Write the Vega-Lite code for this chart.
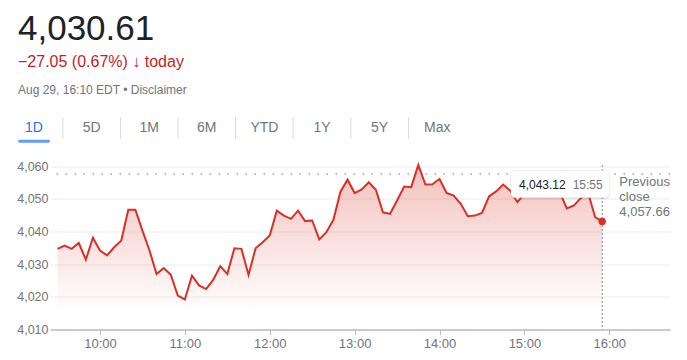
{
  "$schema": "https://vega.github.io/schema/vega-lite/v6.json",
  "background": "white",
  "padding": {"left": 5, "top": 12, "right": 5, "bottom": 5},
  "title": {
    "text": "4,030.61",
    "subtitle": "−27.05 (0.67%) ↓ today",
    "anchor": "start",
    "dx": 13,
    "font": "Liberation Sans",
    "fontSize": 35,
    "fontWeight": "normal",
    "color": "#202124",
    "subtitleFont": "Liberation Sans",
    "subtitleFontSize": 16,
    "subtitleColor": "#c5221f",
    "subtitlePadding": 7,
    "offset": 14
  },
  "spacing": 12.5,
  "vconcat": [
    {
      "width": 416,
      "height": 26,
      "title": {
        "text": "Aug 29, 16:10 EDT • Disclaimer",
        "anchor": "start",
        "frame": "group",
        "dx": -32,
        "font": "Liberation Sans",
        "fontSize": 12,
        "fontWeight": "normal",
        "color": "#70757a",
        "offset": 19.5
      },
      "data": {
        "values": [
          {"tab": "1D"}, {"tab": "5D"}, {"tab": "1M"}, {"tab": "6M"},
          {"tab": "YTD"}, {"tab": "1Y"}, {"tab": "5Y"}, {"tab": "Max"}
        ]
      },
      "encoding": {
        "x": {
          "field": "tab",
          "type": "nominal",
          "sort": null,
          "scale": {"domain": ["1D", "5D", "1M", "6M", "YTD", "1Y", "5Y", "Max"], "range": [-44.8, 416], "paddingInner": 0, "paddingOuter": 0},
          "axis": null
        }
      },
      "layer": [
        {
          "mark": {"type": "text", "fontSize": 14, "font": "Liberation Sans", "baseline": "middle"},
          "encoding": {
            "y": {"datum": 0.56, "type": "quantitative", "scale": {"domain": [0, 1]}, "axis": null},
            "text": {"field": "tab"},
            "color": {"condition": {"test": "datum.tab === '1D'", "value": "#1a73e8"}, "value": "#70757a"}
          }
        },
        {
          "transform": [{"filter": "datum.tab !== 'Max'"}],
          "mark": {"type": "rule", "color": "#dadce0", "strokeWidth": 1},
          "encoding": {
            "x": {"field": "tab", "type": "nominal", "bandPosition": 1},
            "y": {"datum": 1, "type": "quantitative"},
            "y2": {"datum": 0.15}
          }
        },
        {
          "transform": [{"filter": "datum.tab === '1D'"}],
          "mark": {"type": "tick", "color": "#1a73e8", "thickness": 3, "size": 32, "cornerRadius": 1.5},
          "encoding": {
            "y": {"datum": 0.07, "type": "quantitative"}
          }
        }
      ]
    },
    {
      "width": 620,
      "height": 174,
      "data": {
        "values": [
          {"t": "2022-08-29T09:30", "v": 4034.7},
          {"t": "2022-08-29T09:35", "v": 4035.7},
          {"t": "2022-08-29T09:40", "v": 4034.7},
          {"t": "2022-08-29T09:45", "v": 4036.5},
          {"t": "2022-08-29T09:50", "v": 4031.4},
          {"t": "2022-08-29T09:55", "v": 4038.1},
          {"t": "2022-08-29T10:00", "v": 4034.2},
          {"t": "2022-08-29T10:05", "v": 4032.7},
          {"t": "2022-08-29T10:10", "v": 4035.2},
          {"t": "2022-08-29T10:15", "v": 4037.2},
          {"t": "2022-08-29T10:20", "v": 4046.7},
          {"t": "2022-08-29T10:25", "v": 4046.7},
          {"t": "2022-08-29T10:30", "v": 4040.3},
          {"t": "2022-08-29T10:35", "v": 4034.2},
          {"t": "2022-08-29T10:40", "v": 4027.0},
          {"t": "2022-08-29T10:45", "v": 4028.8},
          {"t": "2022-08-29T10:50", "v": 4026.8},
          {"t": "2022-08-29T10:55", "v": 4020.4},
          {"t": "2022-08-29T11:00", "v": 4019.2},
          {"t": "2022-08-29T11:05", "v": 4026.5},
          {"t": "2022-08-29T11:10", "v": 4023.5},
          {"t": "2022-08-29T11:15", "v": 4022.4},
          {"t": "2022-08-29T11:20", "v": 4025.2},
          {"t": "2022-08-29T11:25", "v": 4029.4},
          {"t": "2022-08-29T11:30", "v": 4027.0},
          {"t": "2022-08-29T11:35", "v": 4034.9},
          {"t": "2022-08-29T11:40", "v": 4034.7},
          {"t": "2022-08-29T11:45", "v": 4026.7},
          {"t": "2022-08-29T11:50", "v": 4034.9},
          {"t": "2022-08-29T11:55", "v": 4036.7},
          {"t": "2022-08-29T12:00", "v": 4038.8},
          {"t": "2022-08-29T12:05", "v": 4046.4},
          {"t": "2022-08-29T12:10", "v": 4044.9},
          {"t": "2022-08-29T12:15", "v": 4043.9},
          {"t": "2022-08-29T12:20", "v": 4046.4},
          {"t": "2022-08-29T12:25", "v": 4043.2},
          {"t": "2022-08-29T12:30", "v": 4043.4},
          {"t": "2022-08-29T12:35", "v": 4037.6},
          {"t": "2022-08-29T12:40", "v": 4039.8},
          {"t": "2022-08-29T12:45", "v": 4043.6},
          {"t": "2022-08-29T12:50", "v": 4052.2},
          {"t": "2022-08-29T12:55", "v": 4055.9},
          {"t": "2022-08-29T13:00", "v": 4051.8},
          {"t": "2022-08-29T13:05", "v": 4052.9},
          {"t": "2022-08-29T13:10", "v": 4055.1},
          {"t": "2022-08-29T13:15", "v": 4052.8},
          {"t": "2022-08-29T13:20", "v": 4045.9},
          {"t": "2022-08-29T13:25", "v": 4045.4},
          {"t": "2022-08-29T13:30", "v": 4049.5},
          {"t": "2022-08-29T13:35", "v": 4053.8},
          {"t": "2022-08-29T13:40", "v": 4053.6},
          {"t": "2022-08-29T13:45", "v": 4060.4},
          {"t": "2022-08-29T13:50", "v": 4054.4},
          {"t": "2022-08-29T13:55", "v": 4054.5},
          {"t": "2022-08-29T14:00", "v": 4056.1},
          {"t": "2022-08-29T14:05", "v": 4051.8},
          {"t": "2022-08-29T14:10", "v": 4051.0},
          {"t": "2022-08-29T14:15", "v": 4048.5},
          {"t": "2022-08-29T14:20", "v": 4044.7},
          {"t": "2022-08-29T14:25", "v": 4044.9},
          {"t": "2022-08-29T14:30", "v": 4045.7},
          {"t": "2022-08-29T14:35", "v": 4050.8},
          {"t": "2022-08-29T14:40", "v": 4052.3},
          {"t": "2022-08-29T14:45", "v": 4054.4},
          {"t": "2022-08-29T14:50", "v": 4052.5},
          {"t": "2022-08-29T14:55", "v": 4049.0},
          {"t": "2022-08-29T15:00", "v": 4051.5},
          {"t": "2022-08-29T15:05", "v": 4053.0},
          {"t": "2022-08-29T15:10", "v": 4052.0},
          {"t": "2022-08-29T15:15", "v": 4054.0},
          {"t": "2022-08-29T15:20", "v": 4053.0},
          {"t": "2022-08-29T15:25", "v": 4052.0},
          {"t": "2022-08-29T15:30", "v": 4047.1},
          {"t": "2022-08-29T15:35", "v": 4048.0},
          {"t": "2022-08-29T15:40", "v": 4050.3},
          {"t": "2022-08-29T15:45", "v": 4052.0},
          {"t": "2022-08-29T15:50", "v": 4044.4},
          {"t": "2022-08-29T15:55", "v": 4043.12}
        ]
      },
      "layer": [
        {
          "mark": {
            "type": "area",
            "color": {
              "gradient": "linear",
              "x1": 1, "y1": 1, "x2": 1, "y2": 0,
              "stops": [
                {"offset": 0, "color": "rgba(217,48,37,0)"},
                {"offset": 0.1, "color": "rgba(217,48,37,0)"},
                {"offset": 1, "color": "rgba(217,48,37,0.3)"}
              ]
            }
          },
          "encoding": {
            "x": {
              "field": "t",
              "type": "temporal",
              "scale": {
                "domain": [
                  {"year": 2022, "month": 8, "date": 29, "hours": 9, "minutes": 24, "seconds": 40},
                  {"year": 2022, "month": 8, "date": 29, "hours": 16, "minutes": 42, "seconds": 55}
                ]
              },
              "axis": {
                "title": null,
                "values": [
                  {"year": 2022, "month": 8, "date": 29, "hours": 10},
                  {"year": 2022, "month": 8, "date": 29, "hours": 11},
                  {"year": 2022, "month": 8, "date": 29, "hours": 12},
                  {"year": 2022, "month": 8, "date": 29, "hours": 13},
                  {"year": 2022, "month": 8, "date": 29, "hours": 14},
                  {"year": 2022, "month": 8, "date": 29, "hours": 15},
                  {"year": 2022, "month": 8, "date": 29, "hours": 16}
                ],
                "format": "%H:%M",
                "grid": false,
                "domainColor": "#bdbdbd",
                "domainWidth": 1.5,
                "tickColor": "#bdbdbd",
                "tickSize": 5,
                "labelColor": "#70757a",
                "labelFont": "Liberation Sans",
                "labelFontSize": 13,
                "labelPadding": 3
              }
            },
            "y": {
              "field": "v",
              "type": "quantitative",
              "scale": {"domain": [4010, 4063.3], "zero": false, "nice": false},
              "axis": {
                "title": null,
                "values": [4010, 4020, 4030, 4040, 4050, 4060],
                "tickCount": 6,
                "format": ",d",
                "ticks": false,
                "domain": false,
                "grid": true,
                "gridColor": "#ebebeb",
                "labelColor": "#70757a",
                "labelFont": "Liberation Sans",
                "labelFontSize": 12.5,
                "labelPadding": 2,
                "labelOverlap": false,
                "minExtent": 45
              }
            },
            "y2": {"datum": 4010}
          }
        },
        {
          "mark": {"type": "line", "color": "#d93025", "strokeWidth": 2},
          "encoding": {
            "x": {"field": "t", "type": "temporal"},
            "y": {
              "field": "v",
              "type": "quantitative",
              "axis": {
                "title": null,
                "values": [4010, 4020, 4030, 4040, 4050, 4060],
                "tickCount": 6,
                "format": ",d",
                "ticks": false,
                "domain": false,
                "grid": true,
                "gridColor": "#ebebeb",
                "labelColor": "#70757a",
                "labelFont": "Liberation Sans",
                "labelFontSize": 12.5,
                "labelPadding": 2,
                "labelOverlap": false,
                "minExtent": 45
              }
            }
          }
        },
        {
          "data": {"values": [{"label": "previous close"}]},
          "mark": {"type": "rule", "color": "#9aa0a6", "strokeWidth": 1.5, "strokeDash": [1.5, 7.5]},
          "encoding": {"y": {"datum": 4057.66}}
        },
        {
          "data": {"values": [{"label": "last price line"}]},
          "mark": {"type": "rule", "color": "#80868b", "strokeWidth": 1, "strokeDash": [2, 2]},
          "encoding": {
            "x": {"datum": {"year": 2022, "month": 8, "date": 29, "hours": 15, "minutes": 55}},
            "y": {"datum": 4060.4},
            "y2": {"datum": 4010}
          }
        },
        {
          "data": {"values": [{"label": "last price dot"}]},
          "mark": {"type": "circle", "color": "#d93025", "size": 55, "opacity": 1},
          "encoding": {
            "x": {"datum": {"year": 2022, "month": 8, "date": 29, "hours": 15, "minutes": 55}},
            "y": {"datum": 4043.12}
          }
        },
        {
          "data": {"values": [{"label": "shadow"}]},
          "mark": {"type": "rect", "color": "#000000", "opacity": 0.07, "cornerRadius": 5},
          "encoding": {
            "x": {"datum": {"year": 2022, "month": 8, "date": 29, "hours": 14, "minutes": 50, "seconds": 10}},
            "x2": {"datum": {"year": 2022, "month": 8, "date": 29, "hours": 16, "minutes": 0, "seconds": 30}},
            "y": {"datum": 4058.8},
            "y2": {"datum": 4049.8}
          }
        },
        {
          "data": {"values": [{"label": "box"}]},
          "mark": {"type": "rect", "fill": "#ffffff", "stroke": "#e6e6e6", "strokeWidth": 0.5, "cornerRadius": 4, "opacity": 1},
          "encoding": {
            "x": {"datum": {"year": 2022, "month": 8, "date": 29, "hours": 14, "minutes": 50, "seconds": 32}},
            "x2": {"datum": {"year": 2022, "month": 8, "date": 29, "hours": 16, "minutes": 0, "seconds": 8}},
            "y": {"datum": 4058.7},
            "y2": {"datum": 4050.4}
          }
        },
        {
          "data": {"values": [{"label": "value"}]},
          "mark": {"type": "text", "align": "left", "baseline": "middle", "font": "Liberation Sans", "fontSize": 12, "color": "#202124"},
          "encoding": {
            "x": {"datum": {"year": 2022, "month": 8, "date": 29, "hours": 14, "minutes": 56, "seconds": 10}},
            "y": {"datum": 4054.4},
            "text": {"value": "4,043.12"}
          }
        },
        {
          "data": {"values": [{"label": "time"}]},
          "mark": {"type": "text", "align": "left", "baseline": "middle", "font": "Liberation Sans", "fontSize": 12, "color": "#70757a"},
          "encoding": {
            "x": {"datum": {"year": 2022, "month": 8, "date": 29, "hours": 15, "minutes": 34, "seconds": 8}},
            "y": {"datum": 4054.4},
            "text": {"value": "15:55"}
          }
        },
        {
          "data": {"values": [{"label": "previous close text"}]},
          "mark": {"type": "text", "align": "left", "baseline": "top", "font": "Liberation Sans", "fontSize": 13, "lineHeight": 15, "color": "#70757a", "dy": 2},
          "encoding": {
            "x": {"datum": {"year": 2022, "month": 8, "date": 29, "hours": 16, "minutes": 7, "seconds": 5}},
            "y": {"datum": 4057.66},
            "text": {"value": ["Previous", "close", "4,057.66"]}
          }
        }
      ]
    }
  ],
  "config": {
    "view": {"stroke": null},
    "font": "Liberation Sans",
    "axisY": {"labelOverlap": false}
  }
}
